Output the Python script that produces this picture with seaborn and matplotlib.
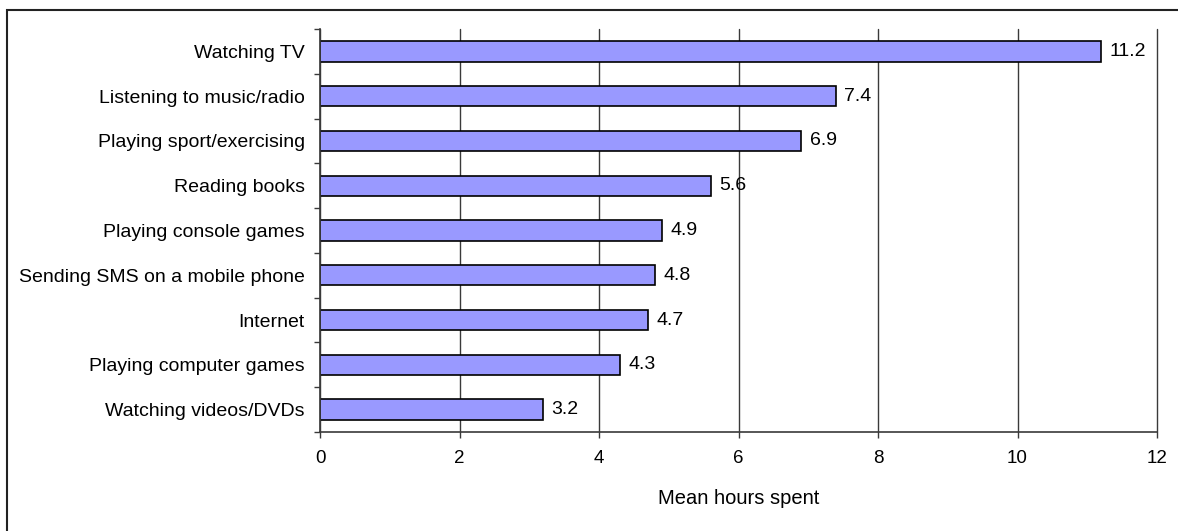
import matplotlib
matplotlib.use("Agg")
import matplotlib.pyplot as plt
import seaborn as sns
import pandas as pd
import numpy as np
from matplotlib.patches import Rectangle

activities = [
    "Watching TV",
    "Listening to music/radio",
    "Playing sport/exercising",
    "Reading books",
    "Playing console games",
    "Sending SMS on a mobile phone",
    "Internet",
    "Playing computer games",
    "Watching videos/DVDs",
]
hours = [11.2, 7.4, 6.9, 5.6, 4.9, 4.8, 4.7, 4.3, 3.2]
x_ticks = [0, 2, 4, 6, 8, 10, 12]
x_label = "Mean hours spent"

sns.set_style("white")
plt.rcParams["font.family"] = ["Liberation Sans", "DejaVu Sans"]
plt.rcParams["text.color"] = "black"
plt.rcParams["xtick.color"] = "black"
plt.rcParams["ytick.color"] = "black"
plt.rcParams["axes.labelcolor"] = "black"

W, H = 1178, 531
fig = plt.figure(figsize=(W / 100, H / 100), dpi=100)
ax = fig.add_axes([320 / W, 1 - 432 / H, (1157 - 320) / W, (432 - 29) / H])

df = pd.DataFrame({"activity": activities, "hours": hours})
sns.barplot(data=df, x="hours", y="activity", orient="h", color="#9999FF",
            saturation=1, edgecolor="black", linewidth=1.2, width=0.455, ax=ax,
            zorder=3)

ax.set_xlim(0, 12)
ax.set_ylim(len(activities) - 0.5, -0.5)
ax.set_xticks(x_ticks)
ax.set_xticklabels([str(t) for t in x_ticks])
ax.set_ylabel("")
ax.set_xlabel(x_label, fontsize=14.5, labelpad=16)

axis_col = "#3a3a3a"
for s in ["top", "right"]:
    ax.spines[s].set_visible(False)
for s in ["left", "bottom"]:
    ax.spines[s].set_color(axis_col)
    ax.spines[s].set_linewidth(1.2)
    ax.spines[s].set_zorder(4)

ax.xaxis.grid(True, color="#3a3a3a", linewidth=1.0, zorder=0)
for gl in ax.get_xgridlines():
    gl.set_clip_on(False)
ax.set_axisbelow(True)

ax.tick_params(axis="x", which="major", direction="out", length=4, width=1,
               color=axis_col, labelsize=13.5, pad=9, bottom=True)
ax.tick_params(axis="y", which="major", length=0, labelsize=14, pad=11)
ax.set_yticks(np.arange(-0.5, len(activities), 1.0), minor=True)
ax.tick_params(axis="y", which="minor", direction="out", length=4, width=1,
               color=axis_col, left=True)

for c in ax.containers:
    ax.bar_label(c, fmt="%.1f", padding=6, fontsize=14)

fig.patches.append(Rectangle((7 / W, -0.1), 1.2, 1 - 10 / H + 0.1,
                             transform=fig.transFigure, fill=False,
                             edgecolor="#222222", linewidth=1.5))

fig.savefig("out.png", dpi=100)
